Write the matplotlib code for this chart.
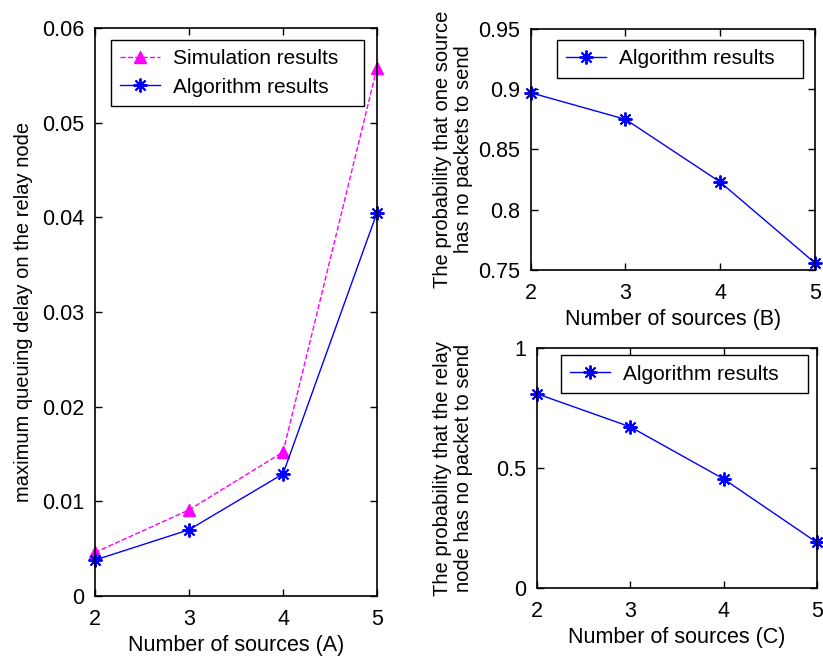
import matplotlib
matplotlib.use("Agg")
import matplotlib.pyplot as plt

plt.rcParams['font.family'] = ['Liberation Sans', 'DejaVu Sans']
plt.rcParams['font.size'] = 15

sources = [2, 3, 4, 5]
sim_delay = [0.0046, 0.0091, 0.0152, 0.0558]
alg_delay = [0.0038, 0.0070, 0.0129, 0.0405]
prob_source = [0.897, 0.875, 0.823, 0.756]
prob_relay = [0.81, 0.672, 0.455, 0.19]

fig = plt.figure(figsize=(8.23, 6.57), dpi=100)

ax1 = fig.add_axes([0.1154, 0.0928, 0.3427, 0.8646])
ax2 = fig.add_axes([0.645, 0.589, 0.345, 0.367])
ax3 = fig.add_axes([0.6525, 0.105, 0.340, 0.365])

TICK_FS = 15.5
LAB_FS = 15.5
YLAB_FS = 14.5

for ax in (ax1, ax2, ax3):
    ax.tick_params(direction='in', top=True, right=True, length=5, width=1,
                   labelsize=TICK_FS)
    ax.tick_params(axis='x', pad=9)
    ax.tick_params(axis='y', pad=7.5)
    for s in ax.spines.values():
        s.set_linewidth(1.2)
    ax.set_xlim(2, 5)
    ax.set_xticks(sources)

leg_kw = dict(fancybox=False, edgecolor='black', framealpha=1, fontsize=15,
              handlelength=1.9, borderpad=0.45, labelspacing=0.45,
              handletextpad=0.63, loc='upper left', mode='expand',
              borderaxespad=0)

star = (8, 2, 0)
star_kw = dict(marker=star, markersize=10, markeredgewidth=1.4)

ax1.plot(sources, sim_delay, color='magenta', linestyle='--', marker='^',
         markersize=8, markerfacecolor='magenta', markeredgecolor='magenta',
         linewidth=1, label='Simulation results', clip_on=False)
ax1.plot(sources, alg_delay, color='blue', linestyle='-', linewidth=1,
         label='Algorithm results', clip_on=False, **star_kw)
ax1.set_ylim(0, 0.06)
ax1.set_yticks([0, 0.01, 0.02, 0.03, 0.04, 0.05, 0.06])
ax1.set_yticklabels(['0', '0.01', '0.02', '0.03', '0.04', '0.05', '0.06'])
ax1.set_xlabel('Number of sources (A)', fontsize=LAB_FS)
ax1.set_ylabel('maximum queuing delay on the relay node', fontsize=YLAB_FS)
ax1.yaxis.set_label_coords(-0.22, 0.5)
ax1.legend(bbox_to_anchor=(0.0567, 0.979, 0.897, 0), **leg_kw)

ax2.plot(sources, prob_source, color='blue', linestyle='-', linewidth=1,
         label='Algorithm results', clip_on=False, **star_kw)
ax2.set_ylim(0.75, 0.95)
ax2.set_yticks([0.75, 0.8, 0.85, 0.9, 0.95])
ax2.set_yticklabels(['0.75', '0.8', '0.85', '0.9', '0.95'])
ax2.set_xlabel('Number of sources (B)', fontsize=LAB_FS)
ax2.set_ylabel('The probability that one source\nhas no packets to send',
               fontsize=YLAB_FS, linespacing=1.1)
ax2.yaxis.set_label_coords(-0.204, 0.5)
ax2.legend(bbox_to_anchor=(0.0915, 0.954, 0.866, 0), **leg_kw)

ax3.plot(sources, prob_relay, color='blue', linestyle='-', linewidth=1,
         label='Algorithm results', clip_on=False, **star_kw)
ax3.set_ylim(0, 1)
ax3.set_yticks([0, 0.5, 1])
ax3.set_yticklabels(['0', '0.5', '1'])
ax3.set_xlabel('Number of sources (C)', fontsize=LAB_FS)
ax3.set_ylabel('The probability that the relay\nnode has no packet to send',
               fontsize=YLAB_FS, linespacing=1.1)
ax3.yaxis.set_label_coords(-0.229, 0.5)
ax3.legend(bbox_to_anchor=(0.0857, 0.971, 0.882, 0), **leg_kw)

fig.savefig('out.png', dpi=100)
